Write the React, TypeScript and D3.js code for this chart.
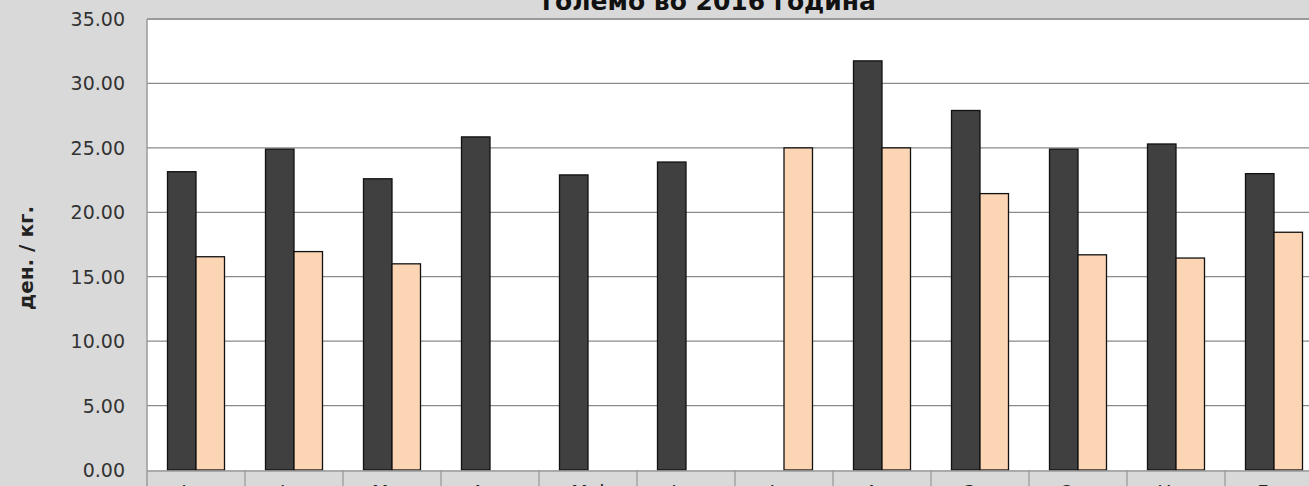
import React from "react";
import * as d3 from "d3";

// месеци (data table под графикот)
const months = ["Јан", "Фев", "Мар", "Апр", "Мај", "Јун", "Јул", "Авг", "Сеп", "Окт", "Ное", "Дек"];
const seriesKeys = ["retail", "wholesale"];
// ден. / кг., null = нема податок
const retailPrices: (number | null)[] = [23.15, 24.9, 22.6, 25.85, 22.9, 23.9, null, 31.75, 27.9, 24.9, 25.3, 23.0];
const wholesalePrices: (number | null)[] = [16.55, 16.95, 16.0, null, null, null, 25.0, 25.0, 21.45, 16.7, 16.45, 18.45];
const yTicks = [0, 5, 10, 15, 20, 25, 30, 35];
const title = "големо во 2016 година";
const yLabel = "ден. / кг.";

const colors: Record<string, string> = { retail: "#404040", wholesale: "#fcd5b5" };

const App: React.FC = () => {
  const width = 1309;
  const height = 486;
  const left = 147;
  const top = 19;
  const bottom = 470;

  const x = d3.scaleBand().domain(months).range([left, left + 98 * 12]).padding(0);
  const x1 = d3.scaleBand().domain(seriesKeys).range([20.5, 77.5]).padding(0);
  const y = d3.scaleLinear().domain([0, 35]).range([bottom, top]);

  const rows = months.map((m, i) => ({ month: m, retail: retailPrices[i], wholesale: wholesalePrices[i] }));
  const fmt = d3.format(".2f");

  return (
    <svg width={width} height={height} style={{ position: "absolute", left: 0, top: 0 }}
      fontFamily="'DejaVu Sans', sans-serif">
      <rect width={width} height={height} fill="#d9d9d9" />
      <text x={709} y={10} textAnchor="middle" fontWeight="bold" fontSize={25} fill="#111">{title}</text>

      {/* plot area */}
      <rect x={left} y={top} width={98 * 12} height={bottom - top} fill="#fff" />
      {yTicks.filter(t => t > 0 && t < 35).map(t => (
        <line key={t} x1={left} x2={width} y1={y(t)} y2={y(t)} stroke="#8a8a8a" strokeWidth={1.3} />
      ))}
      {yTicks.map(t => (
        <text key={"l" + t} x={125} y={y(t) + 7} textAnchor="end" fontSize={19} fill="#333">{fmt(t)}</text>
      ))}
      <text transform={`translate(33,258) rotate(-90)`} textAnchor="middle" fontWeight="bold" fontSize={20} fill="#222">{yLabel}</text>

      {rows.map(r => (
        <g key={r.month} transform={`translate(${x(r.month)},0)`}>
          {seriesKeys.map(k => {
            const v = (r as any)[k] as number | null;
            if (v == null) return null;
            return (
              <rect key={k} x={x1(k)} y={y(v)} width={x1.bandwidth()} height={y(0) - y(v)}
                fill={colors[k]} stroke="#111" strokeWidth={1.3} />
            );
          })}
        </g>
      ))}

      {/* borders */}
      <line x1={left} x2={width} y1={top} y2={top} stroke="#9a9a9a" strokeWidth={2} />
      <line x1={left} x2={left} y1={top} y2={height} stroke="#9a9a9a" strokeWidth={1.5} />
      <line x1={left} x2={width} y1={bottom + 1} y2={bottom + 1} stroke="#9a9a9a" strokeWidth={1.5} />

      {/* data table */}
      {months.map(m => (
        <g key={"c" + m}>
          <line x1={x(m)! + 98} x2={x(m)! + 98} y1={bottom} y2={height} stroke="#9a9a9a" strokeWidth={1.3} />
          <text x={x(m)! + 49} y={499} textAnchor="middle" fontSize={19} fill="#222">{m}</text>
        </g>
      ))}
    </svg>
  );
};

export default App;
